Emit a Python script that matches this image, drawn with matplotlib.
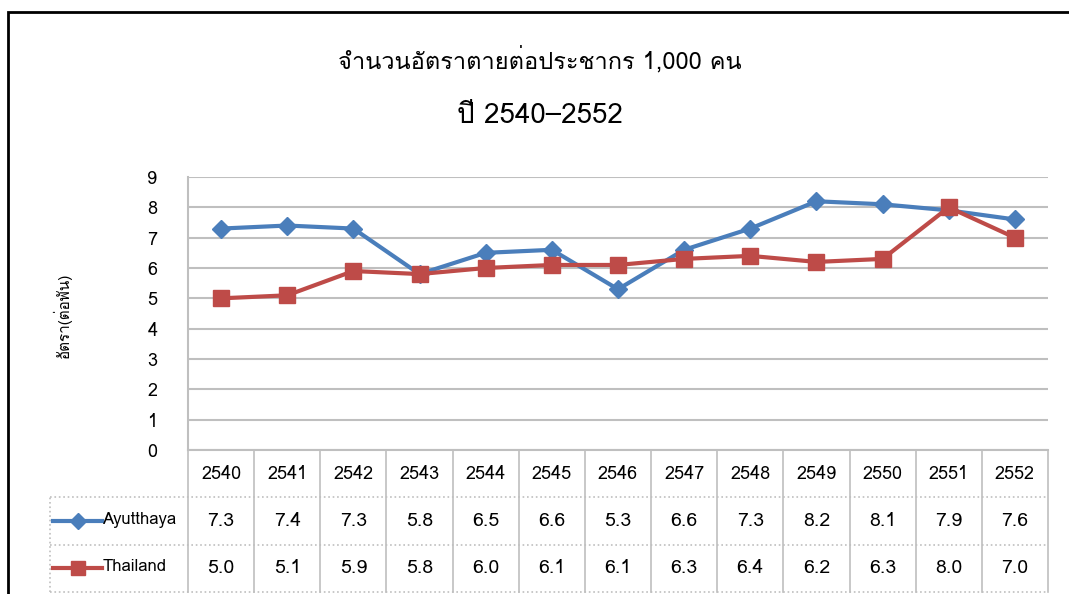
import matplotlib
matplotlib.use("Agg")
import matplotlib.pyplot as plt
from matplotlib import font_manager
from matplotlib.ft2font import FT2Font
from matplotlib.patches import Rectangle
from matplotlib.lines import Line2D

# Data
years = ['2540', '2541', '2542', '2543', '2544', '2545', '2546',
         '2547', '2548', '2549', '2550', '2551', '2552']
ayutthaya = [7.3, 7.4, 7.3, 5.8, 6.5, 6.6, 5.3, 6.6, 7.3, 8.2, 8.1, 7.9, 7.6]
thailand = [5.0, 5.1, 5.9, 5.8, 6.0, 6.1, 6.1, 6.3, 6.4, 6.2, 6.3, 8.0, 7.0]
series_names = ['Ayutthaya', 'Thailand']

title_1 = 'จำนวนอัตราตายต่อประชากร 1,000 คน'
title_2 = 'ปี 2540–2552'
y_label = 'อัตรา(ต่อพัน)'

BLUE = '#4A7EBB'
RED = '#BE4B48'
GRID = '#BFBFBF'


def find_thai_font():
    """Pick an installed font that has Thai glyphs"""
    for f in font_manager.fontManager.ttflist:
        try:
            if 0x0E08 in FT2Font(f.fname).get_charmap():
                return f.name
        except Exception:
            continue
    return None


thai = find_thai_font()
families = ([thai] if thai else []) + ['DejaVu Sans']
plt.rcParams['font.family'] = families

W, H = 1069, 594
fig = plt.figure(figsize=(W / 100, H / 100), dpi=100)


def fx(px):
    return px / W


def fy(py):
    return 1 - py / H


# outer frame
fig.patches.append(Rectangle((fx(8), fy(600)), fx(1100), fy(12) - fy(600),
                             transform=fig.transFigure, fill=False,
                             edgecolor='black', lw=2))

# titles
fig.text(0.505, fy(60), title_1, ha='center', va='center', fontsize=17,
         family=families)
fig.text(0.505, fy(116), title_2, ha='center', va='center', fontsize=20,
         family=families)

# main axes
x0, x1 = 188, 1048
ax = fig.add_axes([fx(x0), fy(450), fx(x1 - x0), fy(177) - fy(450)])
xs = list(range(len(years)))
ax.set_xlim(-0.5, len(years) - 0.5)
ax.set_ylim(0, 9)
ax.set_yticks(range(10))
ax.tick_params(axis='y', length=0, pad=22, labelsize=13)
ax.set_xticks([])
for s in ['top', 'right']:
    ax.spines[s].set_visible(False)
ax.spines['left'].set_color(GRID)
ax.spines['bottom'].set_color(GRID)
ax.spines['left'].set_linewidth(1.5)
ax.spines['bottom'].set_linewidth(1.5)
ax.yaxis.grid(True, color=GRID, lw=1.5)
ax.set_axisbelow(True)

ax.plot(xs, ayutthaya, color=BLUE, lw=3, marker='D', ms=9, label=series_names[0])
ax.plot(xs, thailand, color=RED, lw=3, marker='s', ms=11, label=series_names[1])

fig.text(fx(62), fy(315), y_label, rotation=90, ha='center', va='center',
         fontsize=11, family=families)

# data table below
tab = fig.add_axes([fx(x0), fy(592), fx(x1 - x0), fy(450) - fy(592)])
tab.set_xlim(-0.5, len(years) - 0.5)
tab.set_ylim(0, 3)
tab.axis('off')
colw = (x1 - x0) / len(years)
left = -0.5 - (x0 - 50) / colw

for i in range(len(years) + 1):
    tab.plot([i - 0.5, i - 0.5], [0, 3], color=GRID, lw=1.2, clip_on=False)
tab.plot([left, left], [0, 2], color=GRID, lw=1.2, ls=':', clip_on=False)
for yv in [0, 1, 2]:
    tab.plot([left, len(years) - 0.5], [yv, yv], color=GRID, lw=1.2, ls=':',
             clip_on=False)

for i, yr in enumerate(years):
    tab.text(i, 2.5, yr, ha='center', va='center', fontsize=13)
    tab.text(i, 1.5, f'{ayutthaya[i]:.1f}', ha='center', va='center', fontsize=14)
    tab.text(i, 0.5, f'{thailand[i]:.1f}', ha='center', va='center', fontsize=14)

for row, name, c, m, ms in [(1.5, series_names[0], BLUE, 'D', 8),
                            (0.5, series_names[1], RED, 's', 10)]:
    lx0 = left + 3 / colw
    lx1 = left + 52 / colw
    tab.add_line(Line2D([lx0, lx1], [row, row], color=c, lw=3, clip_on=False))
    tab.add_line(Line2D([(lx0 + lx1) / 2], [row], color=c, marker=m, ms=ms,
                        clip_on=False))
    tab.text(lx1 + 1 / colw, row + 0.03, name, ha='left', va='center',
             fontsize=12)

fig.savefig('out.png', dpi=100)
